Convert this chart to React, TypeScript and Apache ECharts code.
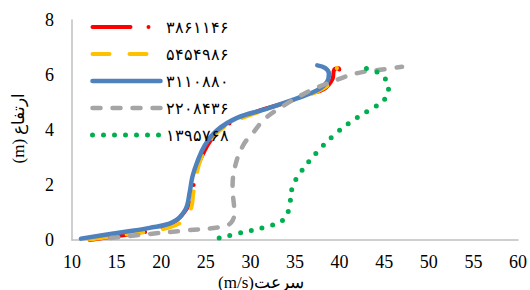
import React, { useEffect, useRef } from "react";
import * as echarts from "echarts";

const seriesNames = ["۳۸۶۱۱۴۶", "۵۴۵۴۹۸۶", "۳۱۱۰۸۸۰", "۲۲۰۸۴۳۶", "۱۳۹۵۷۶۸"];

const red: number[][] = [
  [12, 0.0], [14.5, 0.12], [18.4, 0.3], [20.5, 0.5], [21.8, 0.73], [22.8, 1.1],
  [23.3, 1.45], [23.6, 1.93], [24.0, 2.6], [24.8, 3.2], [26.0, 3.8], [28.0, 4.3],
  [31.0, 4.7], [34.0, 5.0], [36.5, 5.3], [38.3, 5.5], [39.2, 5.85], [39.4, 6.2],
  [39.9, 6.25], [40.0, 6.0],
];
const yellow: number[][] = [
  [12, 0.02], [15, 0.15], [19, 0.33], [21.5, 0.52], [22.8, 0.8], [23.4, 1.2],
  [23.6, 1.7], [23.9, 2.3], [24.5, 3.0], [25.7, 3.7], [27.5, 4.2], [30.5, 4.6],
  [34.0, 5.0], [36.8, 5.3], [38.6, 5.6], [39.3, 5.95], [39.7, 6.25],
];
const blue: number[][] = [
  [11, 0.05], [14.3, 0.22], [18.7, 0.44], [21.3, 0.65], [22.7, 1.1], [23.2, 1.75],
  [23.5, 2.3], [24.0, 2.8], [24.9, 3.45], [26.3, 4.0], [28.5, 4.44], [31.6, 4.75],
  [35.3, 5.16], [37.5, 5.45], [38.6, 5.75], [38.8, 6.05], [38.4, 6.25], [37.5, 6.35],
];
const gray: number[][] = [
  [14.3, 0.07], [18.7, 0.22], [22.9, 0.35], [26.6, 0.47], [27.8, 0.62], [28.2, 1.0],
  [28.0, 1.9], [28.3, 2.7], [29.2, 3.45], [30.3, 3.9], [31.6, 4.4], [33.5, 4.84],
  [36.5, 5.4], [39.1, 5.75], [42.0, 6.07], [44.8, 6.2], [47.0, 6.3],
];
const green: number[][] = [
  [26.5, 0.07], [29.1, 0.28], [31.4, 0.45], [33.8, 0.76], [34.4, 1.3], [34.7, 1.9],
  [35.6, 2.45], [37.6, 3.24], [39.4, 3.82], [41.4, 4.33], [43.5, 4.76], [45.0, 5.1],
  [45.5, 5.6], [44.8, 5.96], [43.7, 6.18], [42.5, 6.25],
];

const xTicks = { min: 10, max: 60, interval: 5 };
const yTicks = { min: 0, max: 8, interval: 2 };

const serif = "'Liberation Serif', 'Times New Roman', serif";

const styles = [
  { color: "#ff0000", width: 4, type: [38, 18, 0, 18] },
  { color: "#ffc000", width: 4, type: [17, 20] },
  { color: "#4f81bd", width: 4.5, type: "solid" },
  { color: "#a5a5a5", width: 4.5, type: [8, 12] },
  { color: "#00b050", width: 5, type: [0, 11] },
];

export default function App() {
  const ref = useRef<HTMLDivElement>(null);
  useEffect(() => {
    if (!ref.current) return;
    const chart = echarts.init(ref.current, null, { renderer: "svg" });
    const datasets = [red, yellow, blue, gray, green];
    chart.setOption({
      animation: false,
      grid: { left: 72, right: 11, top: 20, bottom: 50 },
      legend: {
        orient: "vertical",
        left: 90,
        top: 19,
        padding: 0,
        itemWidth: 68,
        itemHeight: 14,
        itemGap: 11,
        textStyle: { fontSize: 16, color: "#000", fontFamily: serif },
        itemStyle: { color: "transparent", borderWidth: 0, opacity: 0 },
        data: seriesNames.map((n, i) => ({
          name: n,
          itemStyle: { color: "transparent", borderWidth: 0, opacity: 0 },
          lineStyle: {
            color: styles[i].color,
            width: styles[i].width,
            type: styles[i].type,
            cap: "round",
          },
        })),
      },
      xAxis: {
        type: "value",
        min: xTicks.min,
        max: xTicks.max,
        interval: xTicks.interval,
        axisLine: { show: true, lineStyle: { color: "#bfbfbf", width: 1.5 } },
        axisTick: { show: false },
        splitLine: { show: false },
        axisLabel: { fontSize: 18, color: "#000", fontFamily: serif, margin: 13 },
      },
      yAxis: {
        type: "value",
        min: yTicks.min,
        max: yTicks.max,
        interval: yTicks.interval,
        axisLine: { show: true, lineStyle: { color: "#bfbfbf", width: 1.5 } },
        axisTick: { show: false },
        splitLine: { show: false },
        axisLabel: { fontSize: 18, color: "#000", fontFamily: serif, margin: 18 },
      },
      graphic: [
        {
          type: "text",
          x: 18,
          y: 128,
          rotation: Math.PI / 2,
          style: {
            text: "(m) ارتفاع",
            fontSize: 17,
            fontFamily: serif,
            fill: "#000",
            align: "center",
            verticalAlign: "middle",
          },
        },
        {
          type: "text",
          x: 261,
          y: 282,
          style: {
            text: "(m/s)سرعت",
            fontSize: 17,
            fontFamily: serif,
            fill: "#000",
            align: "center",
            verticalAlign: "middle",
          },
        },
      ],
      series: seriesNames.map((name, i) => ({
        name,
        type: "line",
        data: datasets[i],
        smooth: 0.4,
        symbol: "none",
        lineStyle: {
          color: styles[i].color,
          width: styles[i].width,
          type: styles[i].type,
          cap: "round",
          join: "round",
        },
        itemStyle: { color: styles[i].color },
      })),
    });
    return () => chart.dispose();
  }, []);
  return (
    <div
      ref={ref}
      style={{ position: "absolute", left: 0, top: 0, width: 530, height: 290 }}
    />
  );
}
